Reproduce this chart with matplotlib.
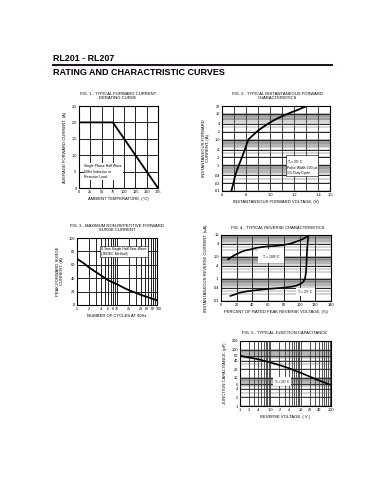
import numpy as np
import matplotlib
matplotlib.use("Agg")
import matplotlib.pyplot as plt
import matplotlib.transforms as mtransforms
from matplotlib.ticker import FixedLocator, NullFormatter, FixedFormatter

plt.rcParams['font.family'] = ['Liberation Sans', 'DejaVu Sans']

# ---------------- data ----------------
fig1_temp = [0, 75, 175]
fig1_current = [2.0, 2.0, 0.0]
fig1_xticks = [0, 25, 50, 75, 100, 125, 150, 175]
fig1_yticks = [0, 0.5, 1.0, 1.5, 2.0, 2.5]
fig1_yticklabels = ['0', '.5', '1.0', '1.5', '2.0', '2.5']

fig2_voltage = [0.678, 0.695, 0.71, 0.725, 0.74, 0.76, 0.78, 0.80, 0.82, 0.86,
                0.90, 0.94, 0.98, 1.02, 1.06, 1.10, 1.15, 1.19, 1.23, 1.27, 1.31]
fig2_current = [0.01, 0.02, 0.04, 0.065, 0.1, 0.17, 0.3, 0.55, 1.0, 1.5,
                2.2, 3.0, 4.0, 5.2, 6.5, 8.0, 10, 12, 14, 17, 20]
fig2_xticks = [0.6, 0.8, 1.0, 1.2, 1.4, 1.5]
fig2_xticklabels = ['.6', '.8', '1.0', '1.2', '1.4', '1.5']
fig2_yticks = [0.01, 0.02, 0.04, 0.1, 0.2, 0.4, 1.0, 2, 4, 10, 20]
fig2_yticklabels = ['.01', '.02', '.04', '.1', '.2', '.4', '1.0', '2', '4', '10', '20']

fig3_cycles = [1, 1.5, 2, 3, 4, 6, 8, 10, 15, 20, 30, 40, 60, 80, 100]
fig3_current = [69, 62, 56, 49, 44, 37, 33.5, 31, 25.5, 22, 18, 15, 11.5, 9, 7]
fig3_xticks = [1, 2, 4, 6, 8, 10, 20, 40, 60, 80, 100]
fig3_xticklabels = ['1', '2', '4', '6', '8', '10', '20', '40', '60', '80', '100']
fig3_yticks = [0, 20, 40, 60, 80, 100]

fig4_pct_100c = [9, 16, 24, 30, 37, 45, 58, 70, 79, 88, 96, 104, 111]
fig4_ir_100c = [0.78, 1.15, 1.6, 1.95, 2.2, 2.6, 3.0, 3.2, 3.5, 4.0, 5.0, 6.5, 9.0]
fig4_pct_25c = [12, 18, 24, 32, 41, 58, 79, 90, 96, 102, 105, 107, 108, 108.7, 109.3, 110.2, 111]
fig4_ir_25c = [0.017, 0.02, 0.024, 0.027, 0.03, 0.035, 0.04, 0.045, 0.05, 0.062, 0.076, 0.11, 0.18, 0.4, 1.5, 4.0, 8.3]
fig4_xticks = [0, 20, 40, 60, 80, 100, 120, 140]
fig4_yticks = [0.01, 0.04, 0.1, 0.4, 1.0, 4, 10]
fig4_yticklabels = ['.01', '.04', '.1', '.4', '1.0', '4', '10']

fig5_voltage = [0.1, 0.2, 0.4, 1.0, 2, 4, 10, 20, 40, 100]
fig5_cap = [60, 52, 45, 35, 28, 22, 15, 11, 8, 5.5]
fig5_xticks = [0.1, 0.2, 0.4, 1.0, 2, 4, 10, 20, 40, 100]
fig5_xticklabels = ['.1', '.2', '.4', '1.0', '2', '4', '10', '20', '40', '100']
fig5_yticks = [1, 2, 4, 6, 10, 20, 40, 60, 100, 200]

# ---------------- layout helpers ----------------
W, H = 386, 500
fig = plt.figure(figsize=(W / 100, H / 100), dpi=100)
fig.patch.set_facecolor('white')


def rect(x0, y0, x1, y1):
    return [x0 / W, 1 - y1 / H, (x1 - x0) / W, (y1 - y0) / H]


def ftext(x, y, s, **kw):
    fig.text(x / W, 1 - y / H, s, **kw)


FS_T = 2.95   # caption
FS_K = 2.8    # tick labels
FS_A = 2.5    # annotation boxes
GRID_C = '#222222'


def style(ax):
    for s in ax.spines.values():
        s.set_linewidth(0.8)
        s.set_color('black')
    ax.tick_params(which='both', length=0, pad=1.5, labelsize=FS_K)
    ax.set_axisbelow(True)


def log_lines(lo, hi, dense=True):
    vals = []
    d = int(np.floor(np.log10(lo)))
    while 10 ** d <= hi * 1.0001:
        ks = list(range(1, 10))
        if dense:
            ks += [5.5, 6.5, 7.5, 8.5, 9.5]
        for k in ks:
            v = k * 10 ** d
            if lo * 0.9999 <= v <= hi * 1.0001:
                vals.append(v)
        d += 1
    return vals


def hlines(ax, vals, lw=0.45, c=GRID_C):
    for v in vals:
        ax.axhline(v, color=c, lw=lw, zorder=1)


def vlines(ax, vals, lw=0.45, c=GRID_C):
    for v in vals:
        ax.axvline(v, color=c, lw=lw, zorder=1)


# ---------------- header ----------------
ftext(53, 61, 'RL201 - RL207', fontsize=6.4, fontweight='bold', ha='left', va='baseline')
fig.add_artist(plt.Line2D([53 / W, 332 / W], [1 - 64.5 / H, 1 - 64.5 / H],
                          color='#1a0f1f', lw=1.4))
ftext(53, 75, 'RATING AND CHARACTRISTIC CURVES', fontsize=6.5, fontweight='bold',
      ha='left', va='baseline')

# ---------------- Fig 1 ----------------
ax1 = fig.add_axes(rect(79, 106, 158, 188))
style(ax1)
ax1.set_xlim(0, 175)
ax1.set_ylim(0, 2.5)
ax1.set_xticks(fig1_xticks)
ax1.set_xticklabels([str(t) for t in fig1_xticks])
ax1.set_yticks(fig1_yticks)
ax1.set_yticklabels(fig1_yticklabels)
vlines(ax1, fig1_xticks, lw=0.7)
hlines(ax1, fig1_yticks, lw=0.7)
ax1.plot(fig1_temp, fig1_current, color='black', lw=1.3, zorder=3)
ax1.text(12, 0.5, 'Single Phase Half Wave\n60Hz Inductive or\nResistive Load',
         fontsize=FS_A, ha='left', va='center', linespacing=1.5, zorder=4,
         bbox=dict(facecolor='white', edgecolor='none', pad=0.6))
ax1.set_ylabel('AVERAGE FORWARD CURRENT, (A)', fontsize=FS_T, labelpad=3)
ax1.set_xlabel('AMBIENT TEMPERATURE, (\u00b0C)', fontsize=FS_T, labelpad=2)
ftext(118, 96, 'FIG. 1 - TYPICAL FORWARD CURRENT\nDERATING CURVE', fontsize=FS_T,
      ha='center', va='center', linespacing=1.2)

# ---------------- Fig 2 ----------------
ax2 = fig.add_axes(rect(222, 106, 330, 191))
style(ax2)
ax2.set_yscale('log')
ax2.set_xlim(0.6, 1.5)
ax2.set_ylim(0.01, 20)
vlines(ax2, [0.6 + 0.1 * i for i in range(10)], lw=0.6)
hlines(ax2, log_lines(0.01, 20), lw=0.35, c='#555555')
hlines(ax2, fig2_yticks, lw=0.7)
ax2.yaxis.set_major_locator(FixedLocator(fig2_yticks))
ax2.yaxis.set_major_formatter(FixedFormatter(fig2_yticklabels))
ax2.yaxis.set_minor_formatter(NullFormatter())
ax2.set_xticks(fig2_xticks)
ax2.set_xticklabels(fig2_xticklabels)
ax2.plot(fig2_voltage, fig2_current, color='black', lw=1.3, zorder=3)
ax2.text(1.14, 0.09, 'T$_J$ = 25\u00b0C\nPulse Width 300 \u03bcs\n1% Duty Cycle',
         fontsize=FS_A, ha='left', va='center', linespacing=1.4, zorder=4,
         bbox=dict(facecolor='white', edgecolor='black', lw=0.4, pad=0.8))
ax2.set_ylabel('INSTANTANEOUS FORWARD\nCURRENT, (A)', fontsize=FS_T, labelpad=3,
               linespacing=1.2)
ax2.set_xlabel('INSTANTANEOUS FORWARD VOLTAGE, (V)', fontsize=FS_T, labelpad=2)
ftext(277, 96, 'FIG. 2 - TYPICAL INSTANTANEOUS FORWARD\nCHARACTERISTICS', fontsize=FS_T,
      ha='center', va='center', linespacing=1.2)

# ---------------- Fig 3 ----------------
ax3 = fig.add_axes(rect(77, 238, 157, 305))
style(ax3)
ax3.set_xscale('log')
ax3.set_xlim(1, 100)
ax3.set_ylim(0, 100)
vlines(ax3, log_lines(1, 100, dense=False), lw=0.7)
hlines(ax3, fig3_yticks, lw=0.7)
ax3.xaxis.set_major_locator(FixedLocator(fig3_xticks))
ax3.xaxis.set_major_formatter(FixedFormatter(fig3_xticklabels))
ax3.xaxis.set_minor_formatter(NullFormatter())
ax3.tick_params(axis='x', labelsize=2.6)
ax3.set_yticks(fig3_yticks)
ax3.set_yticklabels([str(t) for t in fig3_yticks])
ax3.plot(fig3_cycles, fig3_current, color='black', lw=1.3, zorder=3)
ax3.text(4.0, 79.5, '8.3ms Single Half Sine-Wave\n(JEDEC Method)',
         fontsize=FS_A, ha='left', va='center', linespacing=1.4, zorder=4,
         bbox=dict(facecolor='white', edgecolor='black', lw=0.4, pad=0.8))
ax3.set_ylabel('PEAK FORWARD SURGE\nCURRENT, (A)', fontsize=FS_T, labelpad=3,
               linespacing=1.2)
ax3.set_xlabel('NUMBER OF CYCLES AT 60Hz', fontsize=FS_T, labelpad=2)
ftext(117, 228, 'FIG. 3 - MAXIMUM NON-REPETITIVE FORWARD\nSURGE CURRENT', fontsize=FS_T,
      ha='center', va='center', linespacing=1.2)
# nudge the crowded last labels apart
fig.canvas.draw()
xt_labels = ax3.get_xticklabels()
shifts = {'60': -0.9, '80': -0.6, '100': 1.6}
for lab in xt_labels:
    s = lab.get_text()
    if s in shifts:
        lab.set_transform(lab.get_transform() +
                          mtransforms.ScaledTranslation(shifts[s] / 100, 0, fig.dpi_scale_trans))

# ---------------- Fig 4 ----------------
ax4 = fig.add_axes(rect(221, 235, 331, 301))
style(ax4)
ax4.set_yscale('log')
ax4.set_xlim(0, 140)
ax4.set_ylim(0.01, 10)
vlines(ax4, fig4_xticks, lw=0.7)
hlines(ax4, log_lines(0.01, 10), lw=0.35, c='#555555')
hlines(ax4, fig4_yticks, lw=0.7)
ax4.yaxis.set_major_locator(FixedLocator(fig4_yticks))
ax4.yaxis.set_major_formatter(FixedFormatter(fig4_yticklabels))
ax4.yaxis.set_minor_formatter(NullFormatter())
ax4.set_xticks(fig4_xticks)
ax4.set_xticklabels([str(t) for t in fig4_xticks])
ax4.plot(fig4_pct_100c, fig4_ir_100c, color='black', lw=1.2, zorder=3)
ax4.plot(fig4_pct_25c, fig4_ir_25c, color='black', lw=1.2, zorder=3)
ax4.text(52, 1.1, 'T$_J$ = 100\u00b0C', fontsize=FS_A, ha='left', va='center', zorder=4,
         bbox=dict(facecolor='white', edgecolor='none', pad=2.5))
ax4.text(97, 0.026, 'T$_J$ = 25\u00b0C', fontsize=FS_A, ha='left', va='center', zorder=4,
         bbox=dict(facecolor='white', edgecolor='none', pad=0.6))
ax4.set_ylabel('INSTANTANEOUS REVERSE CURRENT, (uA)', fontsize=FS_T, labelpad=4)
ax4.set_xlabel('PERCENT OF RATED PEAK REVERSE VOLTAGE, (%)', fontsize=FS_T, labelpad=2)
ftext(278, 228, 'FIG. 4 - TYPICAL REVERSE CHARACTERISTICS', fontsize=FS_T,
      ha='center', va='center')

# ---------------- Fig 5 ----------------
ax5 = fig.add_axes(rect(240, 341, 331, 406))
style(ax5)
ax5.set_xscale('log')
ax5.set_yscale('log')
ax5.set_xlim(0.1, 100)
ax5.set_ylim(1, 200)
vlines(ax5, log_lines(0.1, 100, dense=False), lw=0.55)
hlines(ax5, log_lines(1, 200), lw=0.35, c='#555555')
hlines(ax5, fig5_yticks, lw=0.6)
ax5.xaxis.set_major_locator(FixedLocator(fig5_xticks))
ax5.xaxis.set_major_formatter(FixedFormatter(fig5_xticklabels))
ax5.xaxis.set_minor_formatter(NullFormatter())
ax5.yaxis.set_major_locator(FixedLocator(fig5_yticks))
ax5.yaxis.set_major_formatter(FixedFormatter([str(t) for t in fig5_yticks]))
ax5.yaxis.set_minor_formatter(NullFormatter())
ax5.plot(fig5_voltage, fig5_cap, color='black', lw=1.2, zorder=3)
ax5.text(1.3, 7.5, 'T$_J$ = 25\u00b0C', fontsize=FS_A, ha='left', va='center', zorder=4,
         bbox=dict(facecolor='white', edgecolor='none', pad=0.6))
ax5.set_ylabel('JUNCTION CAPACITANCE, (pF)', fontsize=FS_T, labelpad=3)
ax5.set_xlabel('REVERSE VOLTAGE, ( V )', fontsize=FS_T, labelpad=2)
ftext(284, 333, 'FIG. 5 - TYPICAL JUNCTION CAPACITANCE', fontsize=FS_T,
      ha='center', va='center')

fig.savefig('out.png', dpi=100, facecolor='white')
